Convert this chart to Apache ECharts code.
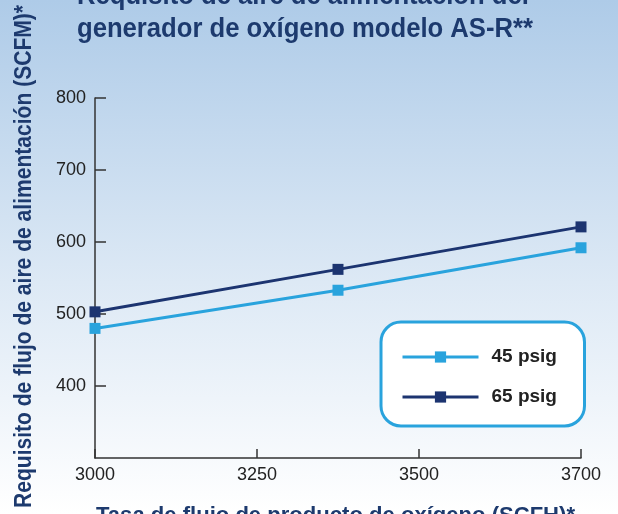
<!DOCTYPE html>
<html><head><meta charset="utf-8">
<script src="https://cdn.jsdelivr.net/npm/echarts@6/dist/echarts.min.js"></script>
<style>html,body{margin:0;padding:0;}#c{width:618px;height:514px;}</style>
</head><body><div id="c"></div>
<script>
const tickLabels = ['3000', '3250', '3500', '3700'];
const xPositions = [0, 1.5, 3];
const series45 = [480, 533, 592];
const series65 = [503, 562, 621];
const seriesNames = ['45 psig', '65 psig'];
const titleLine1 = 'Requisito de aire de alimentación del';
const titleLine2 = 'generador de oxígeno modelo AS-R**';
const yName = 'Requisito de flujo de aire de alimentación (SCFM)*';
const xName = 'Tasa de flujo de producto de oxígeno (SCFH)*';

const NAVY = '#1d3a6e';
const LIGHT = '#29a3dd';
const DARK = '#1c3470';
const FONT = '"Liberation Sans", Arial, sans-serif';

// horizontal condensing to mimic a narrow typeface
const mctx = document.createElement('canvas').getContext('2d');
function textWidth(t, size) {
  mctx.font = 'bold ' + size + 'px ' + FONT;
  return mctx.measureText(t).width;
}
const titleScale = 456 / textWidth(titleLine2, 27);
const yNameScale = 503 / textWidth(yName, 23);
const xNameScale = 479 / textWidth(xName, 22);

const chart = echarts.init(document.getElementById('c'), null, {renderer: 'canvas'});
chart.setOption({
  animation: false,
  backgroundColor: new echarts.graphic.LinearGradient(0, 0, 0, 1, [
    {offset: 0, color: '#aecbe8'},
    {offset: 0.55, color: '#dde9f5'},
    {offset: 1, color: '#ffffff'}
  ]),
  graphic: [
    {type: 'text', x: 77, y: -3.5, scaleX: titleScale,
     style: {text: titleLine1, font: 'bold 27px ' + FONT, fill: NAVY, align: 'left', verticalAlign: 'middle'}},
    {type: 'text', x: 77, y: 29.5, scaleX: titleScale,
     style: {text: titleLine2, font: 'bold 27px ' + FONT, fill: NAVY, align: 'left', verticalAlign: 'middle'}},
    {type: 'text', x: 25, y: 256.5, rotation: Math.PI / 2, scaleX: yNameScale,
     style: {text: yName, font: 'bold 23px ' + FONT, fill: NAVY, align: 'center', verticalAlign: 'middle'}},
    {type: 'text', x: 96, y: 516, scaleX: xNameScale,
     style: {text: xName, font: 'bold 22px ' + FONT, fill: NAVY, align: 'left', verticalAlign: 'middle'}}
  ],
  legend: {
    orient: 'vertical',
    left: 381, top: 322,
    backgroundColor: '#ffffff',
    borderColor: LIGHT, borderWidth: 3, borderRadius: 20,
    padding: [25, 23, 19, 20],
    itemWidth: 76, itemHeight: 14, itemGap: 20,
    lineStyle: {width: 3},
    textStyle: {fontFamily: FONT, fontWeight: 'bold', fontSize: 19, lineHeight: 20, color: '#222', width: 70, padding: [0, 0, 0, 8]},
    data: seriesNames
  },
  grid: {left: 95, top: 98, right: 37, bottom: 56, containLabel: false},
  xAxis: {
    type: 'value', min: 0, max: 3, interval: 1,
    axisLine: {lineStyle: {color: '#333', width: 1.5}},
    axisTick: {inside: true, length: 9, lineStyle: {color: '#333', width: 1.5}},
    splitLine: {show: false},
    axisLabel: {margin: 8, fontFamily: FONT, fontSize: 18, color: '#222',
      formatter: v => tickLabels[Math.round(v)]}
  },
  yAxis: {
    type: 'value', min: 300, max: 800, interval: 100,
    axisLine: {show: true, lineStyle: {color: '#333', width: 1.5}},
    axisTick: {show: true, inside: true, length: 11, lineStyle: {color: '#333', width: 1.5}},
    splitLine: {show: false},
    axisLabel: {showMinLabel: false, margin: 9, fontFamily: FONT, fontSize: 18, color: '#222'}
  },
  series: [
    {name: seriesNames[0], type: 'line', data: xPositions.map((x, i) => [x, series45[i]]),
     symbol: 'rect', symbolSize: 11, itemStyle: {color: LIGHT}, lineStyle: {color: LIGHT, width: 3}},
    {name: seriesNames[1], type: 'line', data: xPositions.map((x, i) => [x, series65[i]]),
     symbol: 'rect', symbolSize: 11, itemStyle: {color: DARK}, lineStyle: {color: DARK, width: 3}}
  ]
});
</script></body></html>
